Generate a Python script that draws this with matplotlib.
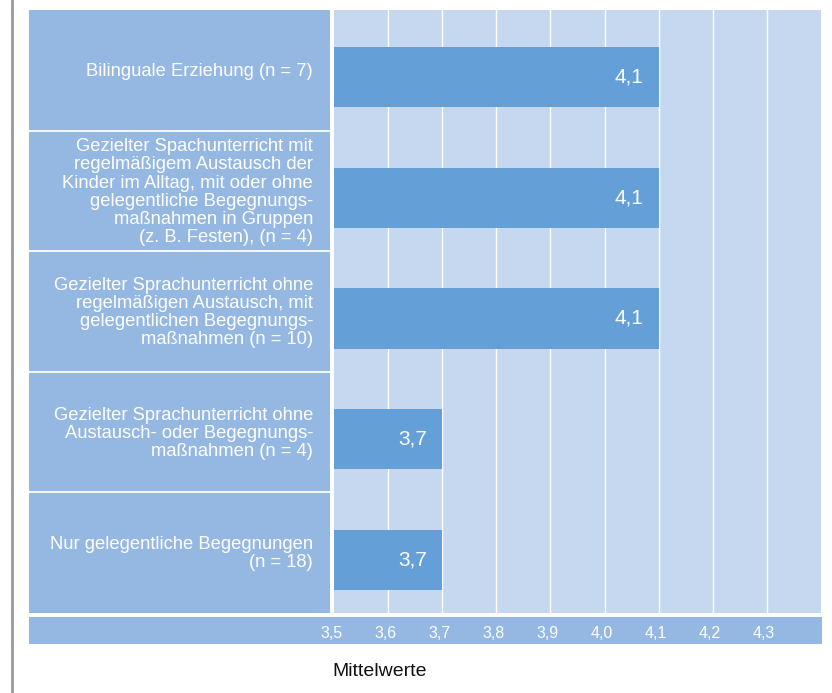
import matplotlib
matplotlib.use('Agg')
import matplotlib.pyplot as plt
from matplotlib.lines import Line2D
from matplotlib.transforms import ScaledTranslation
import numpy as np

plt.rcParams['font.family'] = ['Liberation Sans', 'DejaVu Sans']

categories = [
    "Bilinguale Erziehung (n = 7)",
    "Gezielter Spachunterricht mit\nregelmäßigem Austausch der\nKinder im Alltag, mit oder ohne\n"
    "gelegentliche Begegnungs-\nmaßnahmen in Gruppen\n(z. B. Festen), (n = 4)",
    "Gezielter Sprachunterricht ohne\nregelmäßigen Austausch, mit\ngelegentlichen Begegnungs-\nmaßnahmen (n = 10)",
    "Gezielter Sprachunterricht ohne\nAustausch- oder Begegnungs-\nmaßnahmen (n = 4)",
    "Nur gelegentliche Begegnungen\n(n = 18)",
]
values = [4.1, 4.1, 4.1, 3.7, 3.7]
ticks = [3.5, 3.6, 3.7, 3.8, 3.9, 4.0, 4.1, 4.2, 4.3]
x_min, x_max = 3.5, 4.4

panel_blue = '#95b8e3'
plot_blue = '#c6d8ef'
bar_blue = '#64a0d7'

W, H = 832, 693
fig = plt.figure(figsize=(W / 100, H / 100), dpi=100)


def fig_box(x0, y0, x1, y1):
    # pixel box (top-left origin) -> figure fraction [left, bottom, width, height]
    return [x0 / W, 1 - y1 / H, (x1 - x0) / W, (y1 - y0) / H]


def blank(a):
    for s in a.spines.values():
        s.set_visible(False)
    a.set_xticks([])
    a.set_yticks([])


n = len(categories)
rows = np.arange(n)

# strip behind the tick labels
strip = fig.add_axes(fig_box(29, 617, 822, 644))
strip.set_facecolor(panel_blue)
blank(strip)

# label panel on the left
lab = fig.add_axes(fig_box(29, 10, 330, 613))
lab.set_xlim(0, 1)
lab.set_ylim(n - 0.5, -0.5)
lab.set_facecolor(panel_blue)
blank(lab)
for b in rows[1:] - 0.5:
    lab.axhline(b, color='white', lw=1.3)
for i, txt in enumerate(categories):
    lab.text(0.944, i + 0.01, txt, ha='right', va='center', ma='right', color='white',
             fontsize=13.2, linespacing=1.09)

# gray rule at the far left
fig.lines.append(Line2D([12 / W, 12 / W], [0, 1], transform=fig.transFigure,
                        color='#9a9a9a', lw=2))

ax = fig.add_axes(fig_box(334, 10, 821, 613))
ax.set_facecolor(plot_blue)
ax.set_xlim(x_min, x_max)
shift = 0.058  # bars sit a little below the row centres
ax.set_ylim(n - 0.5 - shift, -0.5 - shift)
for s in ax.spines.values():
    s.set_visible(False)
for t in ticks[1:]:
    ax.axvline(t, color='white', lw=1.0, zorder=1)
ax.barh(rows, [v - x_min for v in values], left=x_min, height=0.5,
        color=bar_blue, zorder=2)
for i, v in enumerate(values):
    ax.annotate(f"{v:.1f}".replace('.', ','), (v, i), xytext=(-21.5, 0),
                textcoords='offset points', ha='center', va='center',
                color='white', fontsize=15, zorder=3)

ax.set_yticks([])
ax.set_xticks(ticks)
ax.set_xticklabels([f"{t:.1f}".replace('.', ',') for t in ticks])
ax.tick_params(axis='x', length=0, pad=9, labelcolor='white', labelsize=11.5)
for lbl in ax.get_xticklabels():
    lbl.set_transform(lbl.get_transform() + ScaledTranslation(-2 / 72, 0, fig.dpi_scale_trans))

fig.text(332 / W, 1 - 671 / H, "Mittelwerte", ha='left', va='center',
         fontsize=14, color='#111111')

plt.savefig("out.png", dpi=100)
